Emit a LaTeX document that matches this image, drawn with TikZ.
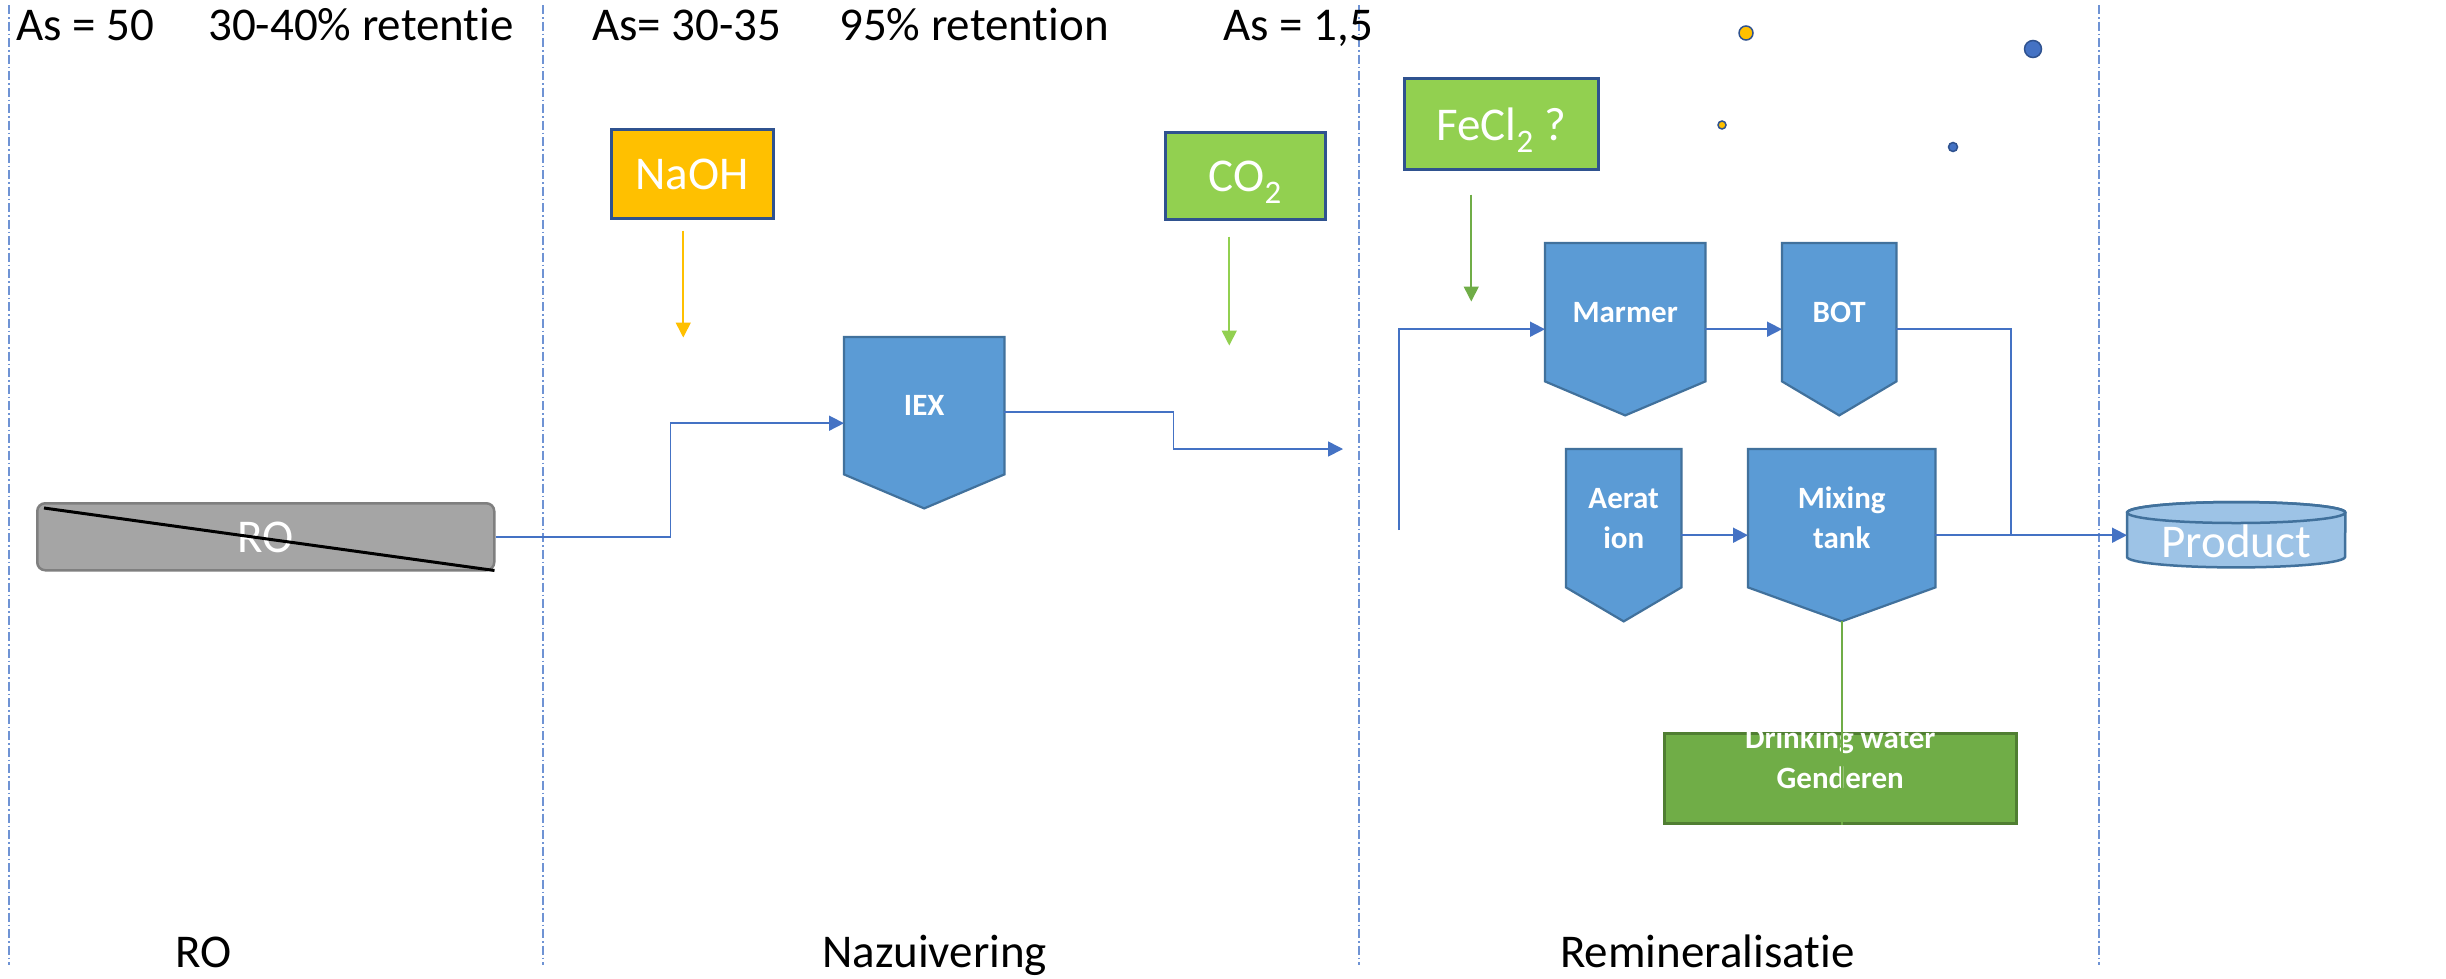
\documentclass[tikz,border=0pt]{standalone}
\usepackage{fontspec}
\setmainfont{Carlito}[Ligatures=NoCommon]
\usetikzlibrary{arrows.meta,backgrounds,calc}
\definecolor{procfill}{HTML}{5B9BD5}
\definecolor{procline}{HTML}{41719C}
\definecolor{connblue}{HTML}{4472C4}
\definecolor{boxline}{HTML}{2F528F}
\definecolor{gold}{HTML}{FFC000}
\definecolor{lgreen}{HTML}{92D050}
\definecolor{dgreen}{HTML}{70AD47}
\definecolor{dgreenline}{HTML}{507E32}
\definecolor{rofill}{HTML}{A5A5A5}
\definecolor{roline}{HTML}{7F7F7F}
\definecolor{prodfill}{HTML}{9DC3E6}
\definecolor{sepcol}{HTML}{6F93D4}
\begin{document}
\begin{tikzpicture}[x=1pt,y=-1pt,
  lbl/.style={inner sep=0pt, anchor=base west, font=\fontsize{47}{56}\selectfont},
  chem/.style={draw=boxline, line width=2.5pt, inner sep=0pt, anchor=north west, text=white, text depth=0pt, font=\fontsize{47}{56}\selectfont},
  proc/.style={inner sep=0pt, anchor=north west, text=white, align=center, font=\fontsize{31}{40}\selectfont\bfseries},
  chev/.style={fill=procfill, draw=procline, line width=2.2pt, line join=miter},
  flow/.style={draw=connblue, line width=1.6pt},
  arr/.style={-{Triangle[length=15pt,width=15pt]}},
  sepline/.style={draw=sepcol, line width=1.3pt, dash pattern=on 9pt off 3pt on 1.5pt off 3pt}
]
\begin{scope}[on background layer]
\fill[white] (0,0) rectangle (2446,978);
\end{scope}
\useasboundingbox (0,0) rectangle (2446,978);

% separators
\draw[sepline] (9,5) -- (9,965);
\draw[sepline] (543,5) -- (543,965);
\draw[sepline] (1359,5) -- (1359,965);
\draw[sepline] (2099,5) -- (2099,965);

% header labels
\node[lbl] (h1) at (16,40) {As = 50};
\node[lbl] (h2) at (208,40) {30-40\% retentie};
\node[lbl] (h3) at (592,40) {As= 30-35};
\node[lbl] (h4) at (839,40) {95\% retention};
\node[lbl] (h5) at (1223,40) {As = 1,5};

% bottom labels
\node[lbl] (f1) at (175,967) {RO};
\node[lbl] (f2) at (822,967) {Nazuivering};
\node[lbl] (f3) at (1560,967) {Remineralisatie};

% dosing boxes
\node[chem, fill=gold, minimum width=162pt, minimum height=89pt] (naoh) at (610,128) {NaOH};
\node[chem, fill=lgreen, minimum width=160pt, minimum height=87pt] (co2) at (1164,131) {CO\textsubscript{2}};
\node[chem, fill=lgreen, minimum width=194pt, minimum height=91pt] (fecl) at (1403,77) {FeCl\textsubscript{2} ?};

\draw[draw=gold, line width=1.6pt, arr] ([xshift=-9pt,yshift=-11pt]naoh.south) -- ++(0,107);
\draw[draw=lgreen, line width=1.6pt, arr] ([xshift=-16pt,yshift=-16pt]co2.south) -- ++(0,109);
\draw[draw=dgreen, line width=1.6pt, arr] ([xshift=-30pt,yshift=-24pt]fecl.south) -- ++(0,107);

% dots
\filldraw[fill=gold, draw=boxline, line width=1.5pt] (1746,33) circle[radius=7pt];
\filldraw[fill=connblue, draw=boxline, line width=1.5pt] (2033,49) circle[radius=8.5pt];
\filldraw[fill=gold, draw=boxline, line width=1.5pt] (1722,125) circle[radius=4pt];
\filldraw[fill=connblue, draw=boxline, line width=1.5pt] (1953,147) circle[radius=4.5pt];

% RO
\node[draw=roline, fill=rofill, line width=2.5pt, rounded corners=8pt, minimum width=457pt, minimum height=67pt, anchor=north west, inner sep=0pt, text=white, text depth=0pt, font=\fontsize{47}{56}\selectfont] (ro) at (36,502) {RO};
\draw[line width=3pt, black] ([xshift=8pt,yshift=-6pt]ro.north west) -- ([xshift=-1pt,yshift=1pt]ro.south east);

% process units
\node[proc, minimum width=160pt, minimum height=137pt] (iex) at (844,337) {IEX};
\node[proc, minimum width=160pt, minimum height=138pt] (marmer) at (1545,243) {Marmer};
\node[proc, minimum width=114pt, minimum height=138pt] (bot) at (1782,243) {BOT};
\node[proc, minimum width=115pt, minimum height=138pt] (aer) at (1566,449) {Aerat\\ion};
\node[proc, minimum width=187pt, minimum height=138pt] (mix) at (1748,449) {Mixing\\tank};
\begin{scope}[on background layer]
\foreach \n in {iex,marmer,bot,aer,mix}
  \filldraw[chev] (\n.north west) -- (\n.north east) -- (\n.south east) -- ([yshift=-34pt]\n.south) -- (\n.south west) -- cycle;
\end{scope}

% product
\node[inner sep=0pt, minimum width=218pt, minimum height=65pt, anchor=north west, text=white, text height=45pt, text depth=0pt, font=\fontsize{47}{56}\selectfont] (product) at (2127,502) {Product};
\begin{scope}[on background layer]
\filldraw[fill=prodfill, draw=procline, line width=2.5pt] ([yshift=-10.5pt]product.north west) -- ([yshift=10.5pt]product.south west) arc[start angle=180, end angle=360, x radius=109pt, y radius=10.5pt] -- ([yshift=-10.5pt]product.north east) arc[start angle=0, end angle=180, x radius=109pt, y radius=10.5pt] -- cycle;
\draw[draw=procline, line width=2.5pt] ([yshift=-10.5pt]product.north) ellipse[x radius=109pt, y radius=10.5pt];
\end{scope}

% drinking water
\node[draw=dgreenline, fill=dgreen, line width=2.5pt, minimum width=352pt, minimum height=90pt, anchor=north west, inner sep=0pt, text=white, align=center, text height=20pt, text depth=0pt, font=\fontsize{31}{40}\selectfont\bfseries] (dw) at (1663,732) {Drinking water\\Genderen};

% connectors
\coordinate (remin) at (1343,449);
\coordinate (recyc) at (1399,530);
\coordinate (junc) at (2011,535);
\draw[flow, arr] (ro.east) -- ++(175,0) |- ([yshift=-17.5pt]iex.west);
\draw[flow, arr] ([yshift=-6.5pt]iex.east) -- ++(169,0) |- (remin);
\draw[flow, arr] (recyc) |- ([yshift=-17pt]marmer.west);
\draw[flow, arr] ([yshift=-17pt]marmer.east) -- ([yshift=-17pt]bot.west);
\draw[flow] ([yshift=-17pt]bot.east) -| (junc);
\draw[flow, arr] ([yshift=-17pt]aer.east) -- ([yshift=-17pt]mix.west);
\draw[flow, arr] ([yshift=-17pt]mix.east) -- ([yshift=-17pt]mix.east -| product.west);
\draw[draw=dgreen, line width=1.6pt] ([yshift=-34pt]mix.south) -- (mix.south |- dw.south);
\end{tikzpicture}
\end{document}
